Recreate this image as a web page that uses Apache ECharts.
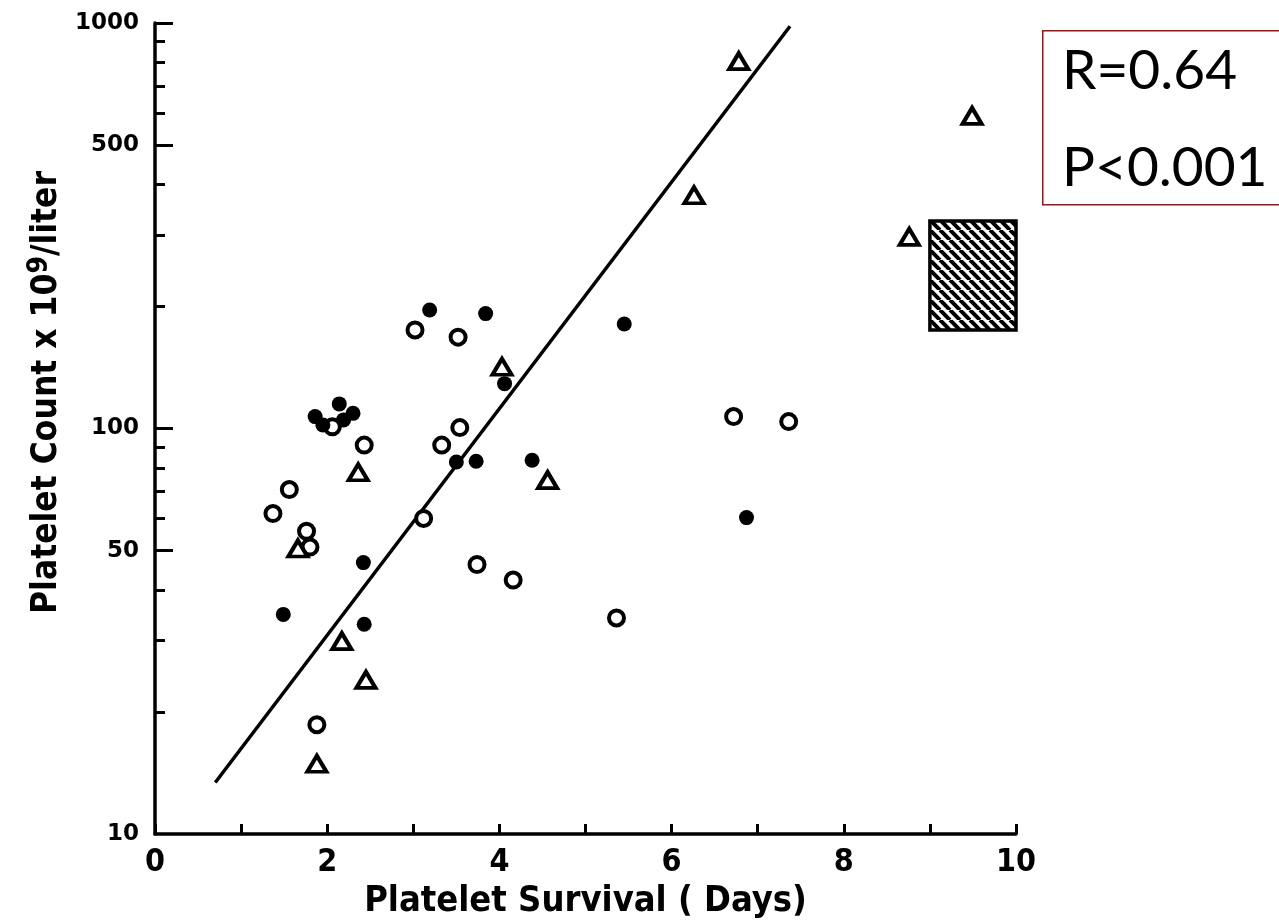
<!DOCTYPE html>
<html>
<head>
<meta charset="utf-8">
<script src="https://cdn.jsdelivr.net/npm/echarts@6/dist/echarts.min.js"></script>
<style>html,body{margin:0;padding:0;background:#fff}#c{width:1279px;height:920px}</style>
</head>
<body>
<div id="c"></div>
<script>
// ---- data ----
const filledPts = [[3.19,196],[3.84,192],[4.06,129],[2.14,115],[1.86,107],[1.95,102],[2.19,105],[2.30,109],
  [3.50,82.7],[3.73,83],[4.38,83.5],[2.42,46.7],[1.49,34.8],[2.43,32.9],[5.45,181],[6.87,60.3]];
const openPts = [[3.02,175],[3.52,168],[2.06,101],[3.54,100.5],[2.43,91],[3.33,91],[1.56,70.7],[1.37,61.7],
  [3.12,60],[1.76,55.8],[1.80,51],[3.74,46.2],[4.16,42.3],[1.88,18.6],[6.72,107],[7.36,104],[5.36,34.1]];
const trianglePts = [[4.03,142],[2.36,78],[4.56,74.6],[1.66,50.6],[2.17,29.9],[2.45,24],[1.88,14.9],
  [6.78,805],[6.26,376],[9.49,590],[8.76,297]];
const fitLine = [[0.70,13.4],[7.375,982]];
const rangeX = [9,10];
const rangeY = [175,325];
const xTickLabels = [0,2,4,6,8,10];
const yTickLabels = [10,50,100,500,1000];
const yMinorTicks = [20,30,40,60,70,80,90,200,300,400,600,700,800,900];
const statLines = ['R=0.64','P<0.001'];

// hatch pattern
const pat = document.createElement('canvas');
pat.width = 10; pat.height = 10;
const g = pat.getContext('2d');
g.fillStyle = '#fff'; g.fillRect(0,0,10,10);
g.strokeStyle = '#000'; g.lineWidth = 4;
[-10,0,10].forEach(x0 => { g.beginPath(); g.moveTo(x0,0); g.lineTo(x0+10,10); g.stroke(); });

const narrow = '"Liberation Sans Narrow", "DejaVu Sans Condensed", "Liberation Sans", sans-serif';
const chart = echarts.init(document.getElementById('c'), null, {renderer:'canvas'});
chart.setOption({
  animation:false,
  backgroundColor:'#fff',
  grid:{left:155, right:263, top:23, height:811, containLabel:false, outerBoundsMode:'none'},
  xAxis:{
    type:'value', min:0, max:10, interval:1,
    name:'Platelet Survival ( Days)', nameLocation:'middle', nameGap:33,
    nameTextStyle:{fontFamily:narrow, fontSize:36, fontWeight:'bold', color:'#000'},
    axisLine:{show:true, onZero:false, lineStyle:{color:'#000', width:3.5}},
    axisTick:{show:true, inside:true, length:10, lineStyle:{color:'#000', width:3}},
    axisLabel:{margin:13, fontFamily:narrow, fontWeight:'bold', fontSize:32, color:'#000',
      formatter: v => xTickLabels.includes(v) ? String(v) : ''},
    splitLine:{show:false}
  },
  yAxis:[{
    type:'log', logBase:10, min:10, max:1000,
    name:'Platelet Count x 10{sup|9}/liter', nameLocation:'middle', nameGap:84, nameRotate:90,
    nameTextStyle:{fontFamily:narrow, fontSize:35, fontWeight:'bold', color:'#000', padding:[0,0,0,72],
      rich:{sup:{fontFamily:narrow, fontSize:28, fontWeight:'bold', color:'#000', verticalAlign:'top', padding:[0,0,14,0]}}},
    axisLine:{show:true, lineStyle:{color:'#000', width:3.5}},
    axisTick:{show:true, inside:true, length:10, customValues:yMinorTicks, lineStyle:{color:'#000', width:3}},
    axisLabel:{margin:16, customValues:yTickLabels, fontFamily:'"DejaVu Sans", sans-serif', fontWeight:'bold', fontSize:23, color:'#000',
      formatter: v => String(Math.round(v))},
    minorTick:{show:false},
    splitLine:{show:false}
  },{
    type:'log', logBase:10, min:10, max:1000, position:'left',
    axisLine:{show:false},
    axisTick:{show:true, inside:true, length:18, customValues:[50,100,500,1000], lineStyle:{color:'#000', width:3}},
    axisLabel:{show:false},
    splitLine:{show:false}
  }],
  series:[
    {type:'line', data:fitLine, symbol:'none', lineStyle:{color:'#000', width:3.5}, silent:true, z:2},
    {type:'scatter', data:[], silent:true,
      markArea:{silent:true, itemStyle:{color:{image:pat, repeat:'repeat'}, borderColor:'#000', borderWidth:3.5, opacity:1},
        data:[[{coord:[rangeX[0], rangeY[0]]},{coord:[rangeX[1], rangeY[1]]}]]}},
    {type:'scatter', data:openPts, symbol:'circle', symbolSize:15,
      itemStyle:{color:'#fff', borderColor:'#000', borderWidth:4, opacity:1}, z:3},
    {type:'scatter', data:trianglePts, symbol:'triangle', symbolSize:[19,16],
      itemStyle:{color:'#fff', borderColor:'#000', borderWidth:4, opacity:1}, z:3},
    {type:'scatter', data:filledPts, symbol:'circle', symbolSize:15,
      itemStyle:{color:'#000', opacity:1}, z:4}
  ],
  graphic:[
    {type:'rect', left:1042, top:30, shape:{width:260, height:174},
      style:{fill:'#fff', stroke:'#8B1A1A', lineWidth:1.5}},
    {type:'text', left:1062, top:44, style:{text:statLines[0], font:'55px Lato', fill:'#000'}},
    {type:'text', left:1062, top:141, style:{text:statLines[1], font:'55px Lato', fill:'#000'}}
  ]
});
</script>
</body>
</html>
